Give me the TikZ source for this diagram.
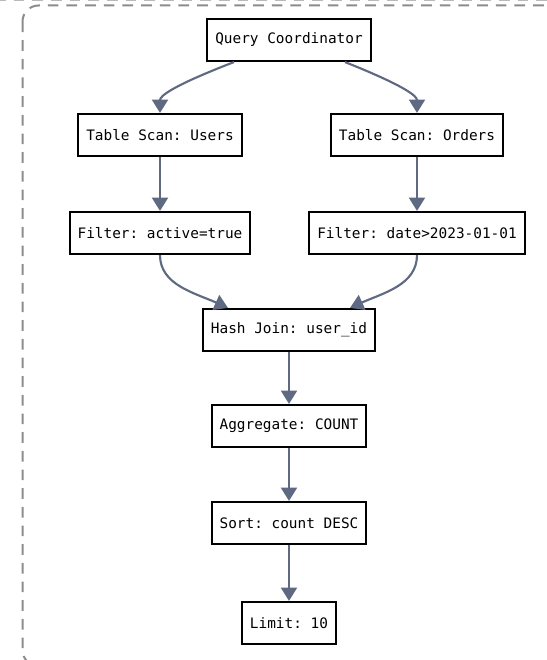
\documentclass[tikz,border=0pt]{standalone}
\usepackage{fontspec}
\setmonofont{DejaVu Sans Mono}
\usetikzlibrary{arrows.meta,calc}
\definecolor{edgec}{RGB}{95,106,130}
\definecolor{framec}{RGB}{140,140,140}
\definecolor{framec2}{RGB}{185,185,185}
\tikzset{
  opbox/.style={draw=black, line width=1.6pt, fill=white, font=\ttfamily\fontsize{10.8}{12}\selectfont,
    inner xsep=6pt, inner ysep=0pt, minimum height=31.5pt},
  flow/.style={draw=edgec, line width=1.6pt, -{Triangle[width=12pt,length=10pt]}},
}
\begin{document}
\begin{tikzpicture}[x=0.75pt,y=-0.75pt]
\useasboundingbox (0,0) rectangle (546,660);
\draw[framec2, line width=1.5pt, dash pattern=on 8pt off 6pt] (-5,0.5) -- (560,0.5);
\draw[framec, line width=1.5pt, dash pattern=on 8pt off 6pt, rounded corners=12pt] (22.5,5.5) rectangle (565,666);

\node[opbox] (qc) at (289,40) {Query Coordinator};
\node[opbox] (tsu) at (160,135) {Table Scan: Users};
\node[opbox] (tso) at (417,135) {Table Scan: Orders};
\node[opbox] (fu) at (160,233) {Filter: active=true};
\node[opbox] (fo) at (417,233) {Filter: date>2023-01-01};
\node[opbox] (hj) at (289,330) {Hash Join: user\_id};
\node[opbox] (ag) at (289,426) {Aggregate: COUNT};
\node[opbox] (so) at (289,523) {Sort: count DESC};
\node[opbox] (li) at (289,623) {Limit: 10};

\draw[flow] ($(qc.south)+(-55,0)$) .. controls (172,86) and (160,96) .. (tsu.north);
\draw[flow] ($(qc.south)+(56,0)$) .. controls (405,86) and (417,96) .. (tso.north);
\draw[flow] (tsu) -- (fu);
\draw[flow] (tso) -- (fo);
\draw[flow] (fu.south) .. controls (160,285) and (195,293) .. ($(hj.north)+(-61,0)$);
\draw[flow] (fo.south) .. controls (417,285) and (383,293) .. ($(hj.north)+(61,0)$);
\draw[flow] (hj) -- (ag);
\draw[flow] (ag) -- (so);
\draw[flow] (so) -- (li);
\end{tikzpicture}
\end{document}
